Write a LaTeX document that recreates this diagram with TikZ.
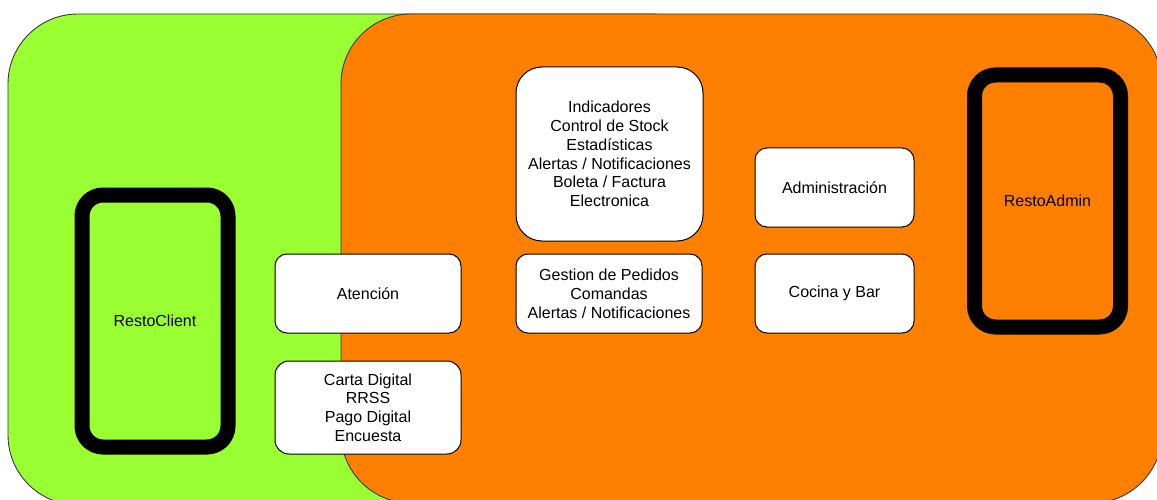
\documentclass[tikz,border=0pt]{standalone}
\usepackage{fontspec}
\setmainfont{Liberation Sans}
\definecolor{zonegreen}{HTML}{99FF33}
\definecolor{zoneorange}{HTML}{FF8000}
\definecolor{zoneline}{HTML}{36393D}

\begin{document}
\begin{tikzpicture}[x=1pt,y=-1pt,
  label text/.style={font=\fontsize{16pt}{18.8pt}\selectfont, text=black},
  zone/.style={draw=zoneline, line width=0.9pt, rounded corners=70pt},
  box/.style={label text, draw=black, fill=white, line width=1pt,
    rounded corners=12pt, align=center, inner sep=0pt},
  phone/.style={label text, draw=black, line width=15pt, rounded corners=21pt,
    inner sep=0pt, minimum width=146pt, minimum height=252pt}]
\useasboundingbox (0,0) rectangle (1157,500);
\clip (0,0) rectangle (1157,500);

% client and admin zones
\draw[zone, fill=zonegreen] (8,14) rectangle (720,505);
\draw[zone, fill=zoneorange] (341,14) rectangle (1162,503);

% applications
\node[phone] (client) at (155,321) {RestoClient};
\node[phone] (adminapp) at (1047.5,201) {RestoAdmin};

% modules
\node[box, minimum width=187pt, minimum height=174pt, rounded corners=26pt]
  (indicadores) at (609.5,154)
  {Indicadores\\Control de Stock\\Estadísticas\\Alertas / Notificaciones\\Boleta / Factura\\Electronica};
\node[box, minimum width=186pt, minimum height=79pt] (atencion) at (368,293.5) {Atención};
\node[box, minimum width=186pt, minimum height=93pt, rounded corners=14pt]
  (carta) at (368,407.5) {Carta Digital\\RRSS\\Pago Digital\\Encuesta};
\node[box, minimum width=186pt, minimum height=79pt] (pedidos) at (609,293.5)
  {Gestion de Pedidos\\Comandas\\Alertas / Notificaciones};
\node[box, minimum width=159pt, minimum height=79pt] (administracion) at (834.5,187.5) {Administración};
\node[box, minimum width=159pt, minimum height=79pt] (cocina) at (834.5,293.5) {Cocina y Bar};
\end{tikzpicture}
\end{document}
